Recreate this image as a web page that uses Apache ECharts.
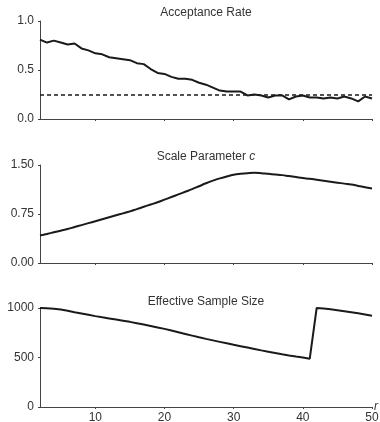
<!DOCTYPE html>
<html>
<head>
<meta charset="utf-8">
<script src="https://cdn.jsdelivr.net/npm/echarts@6/dist/echarts.min.js"></script>
<style>
  html, body { margin: 0; padding: 0; background: #fff; }
  #main { width: 380px; height: 422px; }
</style>
</head>
<body>
<div id="main"></div>
<script>
const rValues = [2, 3, 4, 5, 6, 7, 8, 9, 10, 11, 12, 13, 14, 15, 16, 17, 18, 19, 20, 21, 22, 23, 24, 25,
  26, 27, 28, 29, 30, 31, 32, 33, 34, 35, 36, 37, 38, 39, 40, 41, 42, 43, 44, 45, 46, 47, 48, 49, 50]

const acceptanceRate = [0.81, 0.78, 0.80, 0.78, 0.76, 0.77, 0.72, 0.70, 0.67, 0.66, 0.63, 0.62, 0.61, 0.60,
  0.57, 0.56, 0.51, 0.47, 0.46, 0.43, 0.41, 0.41, 0.40, 0.37, 0.35, 0.32, 0.29, 0.28, 0.28, 0.28,
  0.24, 0.25, 0.24, 0.22, 0.24, 0.24, 0.20, 0.23, 0.24, 0.22, 0.22, 0.21, 0.22, 0.21, 0.23, 0.21,
  0.18, 0.23, 0.21]
const targetRate = 0.25

const scaleParam = [0.42, 0.445, 0.47, 0.495, 0.52, 0.55, 0.58, 0.61, 0.64, 0.67, 0.70, 0.73, 0.76, 0.79,
  0.825, 0.86, 0.895, 0.93, 0.97, 1.01, 1.05, 1.09, 1.13, 1.175, 1.22, 1.26, 1.295, 1.325, 1.35, 1.365,
  1.375, 1.38, 1.375, 1.365, 1.355, 1.345, 1.33, 1.315, 1.30, 1.29, 1.275, 1.26, 1.245, 1.23, 1.215,
  1.20, 1.18, 1.16, 1.14]

const ess = [1000, 998, 993, 984, 972, 958, 945, 932, 918, 906, 895, 884, 872, 860, 847, 833, 819, 804,
  789, 772, 755, 738, 721, 704, 688, 673, 658, 643, 628, 614, 600, 586, 572, 559, 546, 533, 521,
  510, 500, 488, 1000, 995, 987, 978, 968, 957, 946, 935, 922]

const xTicks = [10, 20, 30, 40, 50]

const FONT = '"Liberation Sans", Arial, sans-serif'
const axisColor = '#444'
const lineColor = '#1a1a1a'

const chart = echarts.init(document.getElementById('main'))

const grids = [
  { left: 40, right: 8, top: 21, height: 98, outerBoundsMode: 'none', containLabel: false },
  { left: 40, right: 8, top: 165, height: 98, outerBoundsMode: 'none', containLabel: false },
  { left: 40, right: 8, top: 308, height: 99, outerBoundsMode: 'none', containLabel: false }
]

const isTick = (idx, val) => xTicks.indexOf(Number(val)) >= 0

const xAxes = grids.map((g, i) => ({
  type: 'category',
  gridIndex: i,
  data: rValues,
  boundaryGap: false,
  axisLine: { lineStyle: { color: axisColor, width: 1 } },
  axisTick: { show: true, length: 2, interval: isTick, lineStyle: { color: axisColor } },
  axisLabel: {
    show: i === 2,
    interval: isTick,
    color: '#333',
    fontSize: 12,
    fontFamily: FONT,
    margin: 5
  },
  name: i === 2 ? 'r' : '',
  nameLocation: 'end',
  nameGap: 2,
  nameMoveOverlap: false,
  nameTextStyle: { fontStyle: 'italic', color: '#333', fontSize: 12, fontFamily: FONT, verticalAlign: 'middle', padding: [0, 0, 5, 0] }
}))

const yBase = {
  axisLine: { show: true, lineStyle: { color: axisColor, width: 1 } },
  axisTick: { show: true, length: 2, lineStyle: { color: axisColor } },
  splitLine: { show: false },
  axisLabel: { color: '#333', fontSize: 12, fontFamily: FONT, margin: 6 }
}

const yAxes = [
  Object.assign({}, yBase, { gridIndex: 0, type: 'value', min: 0, max: 1, interval: 0.5,
    axisLabel: Object.assign({}, yBase.axisLabel, { formatter: v => v.toFixed(1) }) }),
  Object.assign({}, yBase, { gridIndex: 1, type: 'value', min: 0, max: 1.5, interval: 0.75,
    axisLabel: Object.assign({}, yBase.axisLabel, { formatter: v => v.toFixed(2) }) }),
  Object.assign({}, yBase, { gridIndex: 2, type: 'value', min: 0, max: 1000, interval: 500,
    axisLabel: Object.assign({}, yBase.axisLabel, { formatter: v => String(v) }) })
]

const titleStyle = { fontSize: 12, fontWeight: 'normal', color: '#333', fontFamily: FONT }

chart.setOption({
  animation: false,
  title: [
    { text: 'Acceptance Rate', left: 201, textAlign: 'center', top: 2, textStyle: titleStyle },
    { text: 'Scale Parameter {i|c}', left: 201, textAlign: 'center', top: 146,
      textStyle: Object.assign({}, titleStyle, { rich: { i: { fontStyle: 'italic', fontSize: 12, color: '#333', fontFamily: FONT } } }) },
    { text: 'Effective Sample Size', left: 201, textAlign: 'center', top: 291, textStyle: titleStyle }
  ],
  grid: grids,
  xAxis: xAxes,
  yAxis: yAxes,
  series: [
    {
      type: 'line',
      xAxisIndex: 0,
      yAxisIndex: 0,
      data: acceptanceRate,
      showSymbol: false,
      lineStyle: { color: lineColor, width: 2 },
      markLine: {
        silent: true,
        symbol: 'none',
        label: { show: false },
        lineStyle: { color: lineColor, width: 1.5, type: [4, 3] },
        data: [{ yAxis: targetRate }]
      }
    },
    {
      type: 'line',
      xAxisIndex: 1,
      yAxisIndex: 1,
      data: scaleParam,
      showSymbol: false,
      smooth: 0.5,
      lineStyle: { color: lineColor, width: 2 }
    },
    {
      type: 'line',
      xAxisIndex: 2,
      yAxisIndex: 2,
      data: ess,
      showSymbol: false,
      lineStyle: { color: lineColor, width: 2 }
    }
  ]
})

window.addEventListener('resize', () => {
  chart.resize()
})
</script>
</body>
</html>
